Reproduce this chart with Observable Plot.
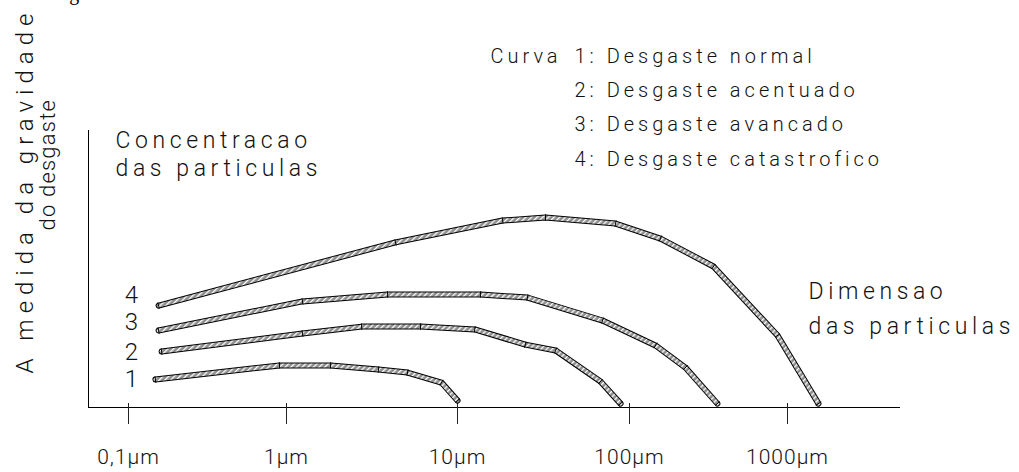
<!DOCTYPE html>
<html>
<head>
<meta charset="utf-8">
<script src="https://cdn.jsdelivr.net/npm/d3@7"></script>
<script src="https://cdn.jsdelivr.net/npm/@observablehq/plot@0.6"></script>
<style>
html, body { margin: 0; padding: 0; background: #fff; }
svg { display: block; }
</style>
</head>
<body>
<div id="chart"></div>
<script>
// ---- data ----
const curveIds = [1, 2, 3, 4];
const curveNames = ["Desgaste normal", "Desgaste acentuado", "Desgaste avancado", "Desgaste catastrofico"];
const legendTitle = "Curva";

// particle size (µm) and relative concentration for each curve
const sizes1 = [0.148, 0.903, 1.81, 3.45, 5.10, 8.06, 10];
const concs1 = [10.1, 15.2, 15.2, 13.7, 12.6, 9.0, 2.5];
const sizes2 = [0.162, 1.24, 2.75, 6.08, 12.6, 24.8, 37.2, 67.8, 88.7];
const concs2 = [20.2, 26.7, 29.2, 29.2, 28.2, 22.7, 20.6, 9.4, 1.4];
const sizes3 = [0.155, 1.24, 3.90, 13.6, 25.5, 69.7, 146, 226, 360];
const concs3 = [27.8, 38.3, 40.8, 40.8, 39.7, 31.4, 22.4, 14.4, 1.4];
const sizes4 = [0.155, 4.34, 18.3, 32.5, 83.0, 157, 340, 865, 1570];
const concs4 = [36.8, 59.6, 67.5, 68.6, 66.4, 61.0, 50.9, 26.0, 1.4];

const tickValues = [0.1, 1, 10, 100, 1000];
const tickLabels = ["0,1µm", "1µm", "10µm", "100µm", "1000µm"];
const yTitle = ["A medida da gravidade", "do desgaste"];
const yNote = "Concentracao\ndas particulas";
const xNote = "Dimensao\ndas particulas";
const topNote = "o desgaste.";

// ---- build ----
const curveSizes = [sizes1, sizes2, sizes3, sizes4];
const curveConcs = [concs1, concs2, concs3, concs4];
const points = curveIds.flatMap((id, k) =>
  curveSizes[k].map((s, j) => ({curve: id, size: s, conc: curveConcs[k][j]})));

const base = {
  width: 1019, height: 472,
  marginLeft: 88, marginRight: 119, marginTop: 130, marginBottom: 65,
  x: {type: "log", domain: tickValues, range: [128, 286, 457, 629, 787], axis: null},
  y: {domain: [0, 100], axis: null},
  style: {background: "white", overflow: "visible"}
};

// probe pass to get scales for the segment separators
const probe = Plot.plot({...base, marks: [Plot.line(points, {x: "size", y: "conc", z: "curve"})]});
const sx = probe.scale("x"), sy = probe.scale("y");
const halfW = 3.2;
const seps = [];
curveIds.forEach((id, k) => {
  const P = curveSizes[k].map((s, j) => [sx.apply(s), sy.apply(curveConcs[k][j])]);
  const n = P.length;
  const unit = (a, b) => { const dx = b[0] - a[0], dy = b[1] - a[1], l = Math.hypot(dx, dy); return [dx / l, dy / l]; };
  P.forEach((p, j) => {
    let d;
    if (j === 0) d = unit(P[0], P[1]);
    else if (j === n - 1) d = unit(P[n - 2], P[n - 1]);
    else { const a = unit(P[j - 1], P[j]), b = unit(P[j], P[j + 1]); d = [a[0] + b[0], a[1] + b[1]]; const l = Math.hypot(d[0], d[1]); d = [d[0] / l, d[1] / l]; }
    const nx = -d[1] * halfW, ny = d[0] * halfW;
    seps.push({
      x1: sx.invert(p[0] + nx), y1: sy.invert(p[1] + ny),
      x2: sx.invert(p[0] - nx), y2: sy.invert(p[1] - ny)
    });
  });
});

const font = {fontFamily: "Roboto, 'DejaVu Sans', sans-serif", fontWeight: 300, fill: "#111"};
const numberDy = [0, 1, -8, -10];

const svg = Plot.plot({
  ...base,
  marks: [
    Plot.frame({anchor: "left", stroke: "#000"}),
    Plot.ruleY([0], {stroke: "#000"}),
    Plot.axisX({
      ticks: tickValues,
      tickFormat: d => tickLabels[tickValues.indexOf(d)],
      tickSize: 21, dy: -4, tickPadding: 25,
      fontSize: 21, fontFamily: font.fontFamily, fontWeight: 300,
      stroke: "#222", label: null
    }),
    Plot.line(points, {x: "size", y: "conc", z: "curve", stroke: "#000", strokeWidth: 6, strokeLinejoin: "miter"}),
    Plot.line(points, {x: "size", y: "conc", z: "curve", stroke: "url(#hatch)", strokeWidth: 4, strokeLinejoin: "miter"}),
    Plot.link(seps, {x1: "x1", y1: "y1", x2: "x2", y2: "y2", stroke: "#000", strokeWidth: 1}),
    ...curveIds.map((id, k) => Plot.text([id], {
      text: d => String(d), frameAnchor: "left", y: () => curveConcs[k][0],
      dx: 43, dy: numberDy[k], textAnchor: "middle", lineAnchor: "middle",
      fontSize: 24, ariaLabel: () => "number", ...font
    })),
    Plot.text([legendTitle], {text: d => d, frameAnchor: "top-left", dx: 402, dy: -68, textAnchor: "start", lineAnchor: "bottom", fontSize: 20, ariaLabel: () => "legend", ...font}),
    Plot.text([curveIds.map((id, i) => `${id}: ${curveNames[i]}`).join("\n")], {
      text: d => d, frameAnchor: "top-left", dx: 486, dy: 35, textAnchor: "start", lineAnchor: "bottom",
      lineHeight: 34.3 / 20, fontSize: 20, ariaLabel: () => "legend", ...font
    }),
    Plot.text([yNote], {text: d => d, frameAnchor: "top-left", dx: 27, dy: 45, textAnchor: "start", lineAnchor: "bottom", lineHeight: 28 / 23, fontSize: 23, ariaLabel: () => "note", ...font}),
    Plot.text([xNote], {text: d => d, frameAnchor: "top-left", dx: 720, dy: 203, textAnchor: "start", lineAnchor: "bottom", lineHeight: 35 / 23, fontSize: 23, ariaLabel: () => "note", ...font}),
    Plot.text([yTitle[0]], {text: d => d, frameAnchor: "top-left", dx: -56, dy: 243, rotate: -90, textAnchor: "start", lineAnchor: "bottom", fontSize: 24, ariaLabel: () => "ytitle1", ...font}),
    Plot.text([yTitle[1]], {text: d => d, frameAnchor: "top-left", dx: -34, dy: 100, rotate: -90, textAnchor: "start", lineAnchor: "bottom", fontSize: 22, ariaLabel: () => "ytitle2", ...font}),
    Plot.text([topNote], {text: d => d, frameAnchor: "top-left", dx: -61, dy: -131, textAnchor: "start", lineAnchor: "bottom", fontSize: 20, fontFamily: "'Liberation Serif', 'DejaVu Serif', serif", fill: "#000"})
  ]
});

const s = d3.select(svg);
s.insert("defs", ":first-child").html(
  `<pattern id="hatch" patternUnits="userSpaceOnUse" width="4" height="4" patternTransform="rotate(45)">
     <rect width="4" height="4" fill="#8e8e8e"></rect>
     <rect width="1.3" height="4" fill="#ffffff"></rect>
   </pattern>`);
s.selectAll('text[aria-label="legend"]').style("letter-spacing", "4px");
s.selectAll('text[aria-label="note"]').style("letter-spacing", "4.6px");
s.selectAll('text[aria-label="ytitle1"]').style("letter-spacing", "6px");
s.selectAll('text[aria-label="ytitle2"]').style("letter-spacing", "1.2px");
s.selectAll('g[aria-label="x-axis tick label"] text').style("letter-spacing", "1px").attr("fill", "#111");
document.getElementById("chart").appendChild(svg);
</script>
</body>
</html>
